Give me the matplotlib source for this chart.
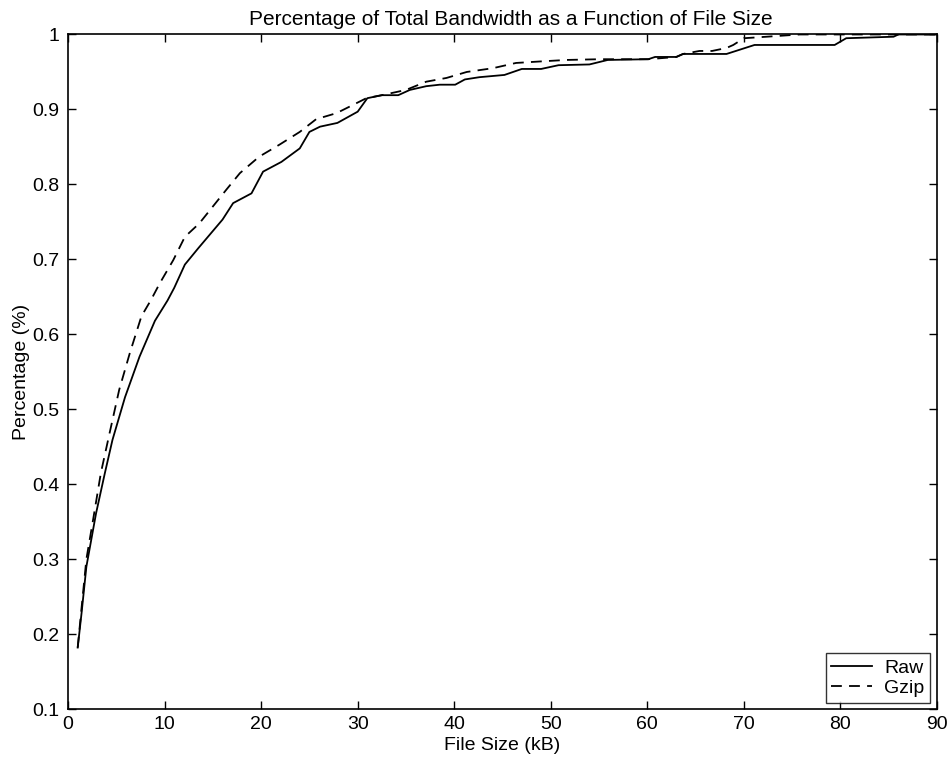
import matplotlib
matplotlib.use("Agg")
import matplotlib.pyplot as plt

plt.rcParams["font.family"] = ["Liberation Sans", "DejaVu Sans"]

# Raw (uncompressed) cumulative bandwidth share
raw_size = [1, 1.4, 1.9, 2.9, 3.8, 4.6, 5.9, 7.4, 9.0, 10.3, 11.0, 12.1, 13.5,
            16.0, 17.1, 19.0, 20.2, 22.1, 24.0, 25.0, 26.1, 27.9, 30.0, 31.0,
            32.5, 34.2, 35.4, 37.1, 38.5, 40.1, 41.1, 42.6, 45.2, 47.0, 49.0,
            50.8, 54.0, 55.9, 60.1, 60.8, 63.0, 63.7, 68.2, 71.1, 79.4, 80.6,
            85.5, 86.0, 90.0]
raw_pct = [0.182, 0.228, 0.290, 0.361, 0.414, 0.459, 0.516, 0.570, 0.618, 0.645,
           0.662, 0.693, 0.715, 0.753, 0.775, 0.788, 0.817, 0.830, 0.848, 0.870,
           0.877, 0.882, 0.897, 0.915, 0.919, 0.919, 0.926, 0.931, 0.933, 0.933,
           0.940, 0.943, 0.946, 0.954, 0.954, 0.959, 0.960, 0.966, 0.967, 0.970,
           0.970, 0.974, 0.974, 0.986, 0.986, 0.995, 0.997, 1.0, 1.0]

# Gzip-compressed cumulative bandwidth share
gzip_size = [1, 1.4, 1.9, 2.6, 3.4, 4.3, 5.3, 6.4, 7.6, 8.6, 9.5, 10.9, 12.1,
             13.6, 16.4, 17.8, 19.8, 21.9, 24.0, 25.7, 27.8, 29.2, 30.9, 32.5,
             35.0, 37.1, 39.2, 41.3, 44.0, 46.4, 48.9, 51.6, 55.1, 60.1, 63.0,
             63.7, 65.4, 66.7, 68.2, 68.9, 70.0, 71.2, 75.8, 90.0]
gzip_pct = [0.182, 0.235, 0.300, 0.353, 0.415, 0.468, 0.526, 0.575, 0.624, 0.646,
            0.668, 0.699, 0.730, 0.748, 0.793, 0.815, 0.837, 0.853, 0.870, 0.887,
            0.895, 0.904, 0.915, 0.919, 0.926, 0.937, 0.942, 0.950, 0.955, 0.962,
            0.964, 0.966, 0.967, 0.967, 0.970, 0.974, 0.978, 0.978, 0.982, 0.986,
            0.995, 0.996, 1.0, 1.0]

fig = plt.figure(figsize=(9.53, 7.61), dpi=100)
ax = fig.add_axes([0.0714, 0.0683, 0.9118, 0.8864])

ax.plot(raw_size, raw_pct, color="black", linewidth=1.3, label="Raw")
ax.plot(gzip_size, gzip_pct, color="black", linewidth=1.3, linestyle=(0, (6, 4)),
        label="Gzip")

ax.set_xlim(0, 90)
ax.set_ylim(0.1, 1)
ax.set_xticks(range(0, 91, 10))
ax.set_yticks([0.1, 0.2, 0.3, 0.4, 0.5, 0.6, 0.7, 0.8, 0.9, 1.0])
ax.set_yticklabels(["0.1", "0.2", "0.3", "0.4", "0.5", "0.6", "0.7", "0.8", "0.9", "1"])
ax.tick_params(direction="in", top=True, right=True, length=6, width=1,
               labelsize=14)
ax.tick_params(axis="x", pad=5)
ax.tick_params(axis="y", pad=6)
for s in ax.spines.values():
    s.set_linewidth(1.2)

ax.set_title("Percentage of Total Bandwidth as a Function of File Size",
             fontsize=15, pad=7, x=0.51)
ax.set_xlabel("File Size (kB)", fontsize=14, labelpad=3)
ax.set_ylabel("Percentage (%)", fontsize=14, labelpad=2)

leg = ax.legend(loc="lower right", bbox_to_anchor=(0.992, 0.009), fontsize=14,
                frameon=True, fancybox=False, handlelength=2.1,
                borderpad=0.3, labelspacing=0.15, handletextpad=0.6,
                borderaxespad=0)
leg.get_frame().set_edgecolor("black")
leg.get_frame().set_linewidth(1.0)

fig.savefig("out.png", dpi=100)
